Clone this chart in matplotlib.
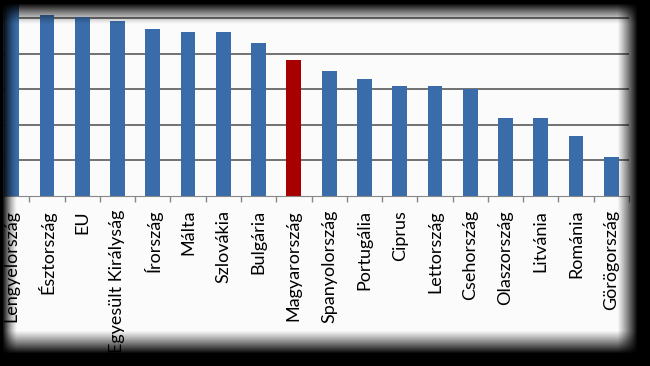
import numpy as np
import matplotlib.pyplot as plt

countries = ["Lengyelország", "Észtország", "EU", "Egyesült Királyság", "Írország",
             "Málta", "Szlovákia", "Bulgária", "Magyarország", "Spanyolország",
             "Portugália", "Ciprus", "Lettország", "Csehország", "Olaszország",
             "Litvánia", "Románia", "Görögország"]
values = [5.7, 5.08, 5.02, 4.91, 4.69, 4.61, 4.61, 4.30, 3.81, 3.50,
          3.29, 3.10, 3.10, 3.01, 2.18, 2.18, 1.69, 1.10]
highlight = "Magyarország"

plt.rcParams['font.family'] = ['Lato', 'DejaVu Sans']

fig = plt.figure(figsize=(6.5, 3.66), dpi=100)
fig.patch.set_facecolor('#fbfbfb')
ax = fig.add_axes([-6 / 650, 170 / 366, 635 / 650, 213.6 / 366])
ax.set_facecolor('#fbfbfb')

x = np.arange(len(countries))
colors = ['#a80000' if c == highlight else '#3a6ca9' for c in countries]
ax.bar(x, values, width=0.42, color=colors, zorder=3)

ax.set_xlim(-0.5, len(countries) - 0.5)
ax.set_ylim(0, 6)
ax.set_yticks(range(1, 6))
ax.yaxis.grid(True, color='#5a5a5a', lw=1.2, zorder=1)
ax.tick_params(axis='y', length=0, labelleft=False)

ax.set_xticks(x)
ax.set_xticklabels(countries, rotation=90, fontsize=13, va='top', ha='center')
ax.set_xticks(np.arange(len(countries) + 1) - 0.5, minor=True)
ax.tick_params(axis='x', which='major', length=0, pad=10)
ax.tick_params(axis='x', which='minor', length=4, color='#888888', width=1)

for s in ['top', 'right', 'left']:
    ax.spines[s].set_visible(False)
ax.spines['bottom'].set_color('#888888')
ax.spines['bottom'].set_zorder(4)

# dark vignette frame around the screenshot
h, w = 366, 650
yy, xx = np.mgrid[0:h, 0:w]
top = np.clip((24 - yy) / 21, 0, 1) ** 1.3
bottom = np.clip((yy - 330) / 23, 0, 1) ** 1.1
left = np.clip((17 - xx) / 15, 0, 1) ** 1.4
right = np.clip((xx - 617) / 20, 0, 1) ** 1.1
alpha = 1 - (1 - top) * (1 - bottom) * (1 - left) * (1 - right)
overlay = np.zeros((h, w, 4))
overlay[..., 3] = alpha
ov = fig.add_axes([0, 0, 1, 1], zorder=10)
ov.imshow(overlay, aspect='auto', interpolation='bilinear')
ov.axis('off')

fig.savefig('out.png', dpi=100)
